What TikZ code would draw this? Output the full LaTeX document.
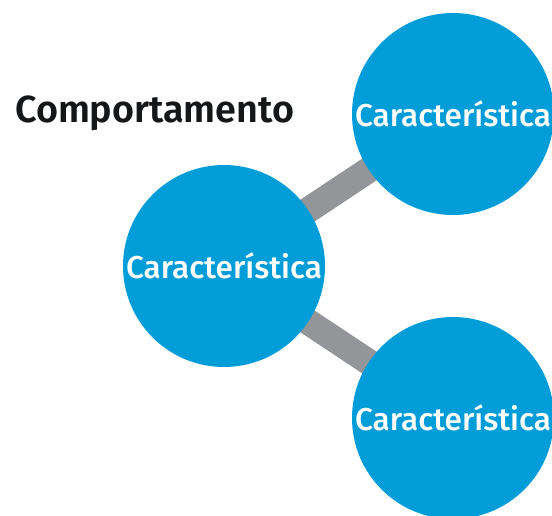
\documentclass[tikz,border=0pt]{standalone}
\usepackage{fontspec}
\setmainfont{Fira Sans}
\newfontfamily\medfont{Fira Sans Medium}
\newfontfamily\semifont{Fira Sans SemiBold}
\usetikzlibrary{backgrounds}
\definecolor{cblue}{RGB}{0,157,216}
\definecolor{cgray}{RGB}{148,149,153}
\definecolor{ctext}{RGB}{20,22,24}
\tikzset{
  bubble/.style={circle, fill=cblue, minimum size=202pt, inner sep=0pt,
    text=white, font=\medfont\fontsize{31.5}{36}\selectfont},
  link/.style={cgray, line width=26pt},
  title/.style={text=ctext, font=\semifont\fontsize{37.7}{44}\selectfont, inner sep=0pt}
}
\begin{document}
\begin{tikzpicture}[x=1pt,y=-1pt]
\useasboundingbox (0,0) rectangle (552,515);
\clip (0,0) rectangle (552,515);
\node[bubble] (L) at (224,266) {Característica};
\node[bubble] (T) at (453,114) {Característica};
\node[bubble] (B) at (453,418) {Característica};
\node[title, anchor=base west] (H) at (15,122) {Comportamento};
\begin{scope}[on background layer]
\draw[link] (L.center) -- (T.center);
\draw[link] (L.center) -- (B.center);
\end{scope}
\end{tikzpicture}
\end{document}
